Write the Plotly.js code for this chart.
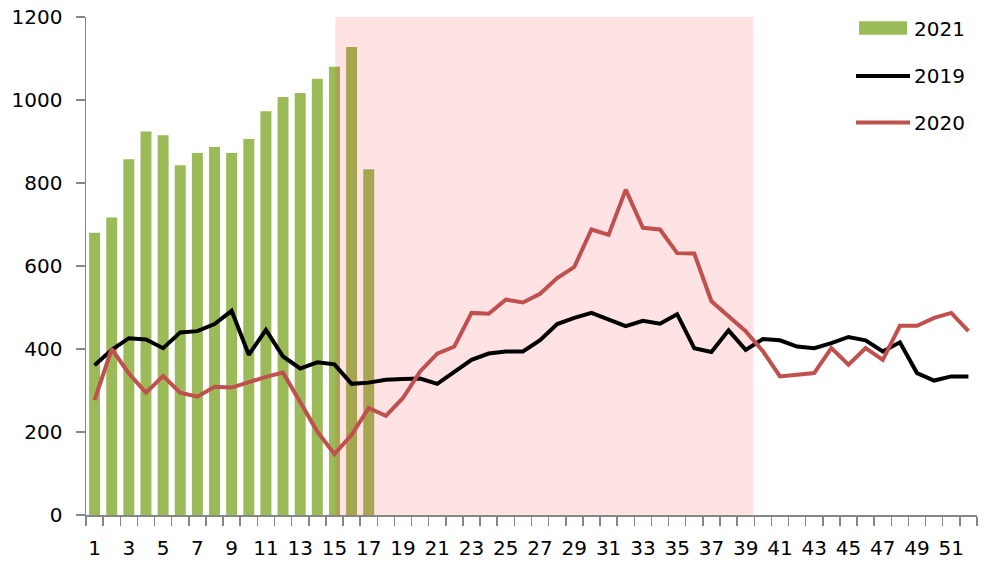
<!DOCTYPE html>
<html>
<head>
<meta charset="utf-8">
<script src="https://cdn.plot.ly/plotly-3.0.1.min.js"></script>
<style>html,body{margin:0;padding:0;background:#fff;}#chart{width:981px;height:570px;}</style>
</head>
<body>
<div id="chart"></div>
<script>
// Categories (weeks)
const weeks = [1,2,3,4,5,6,7,8,9,10,11,12,13,14,15,16,17,18,19,20,21,22,23,24,25,26,
  27,28,29,30,31,32,33,34,35,36,37,38,39,40,41,42,43,44,45,46,47,48,49,50,51,52];
const weeks2021 = [1,2,3,4,5,6,7,8,9,10,11,12,13,14,15,16,17];
// Series values
const v2021 = [680,717,857,924,915,843,872,887,872,906,973,1007,1017,1051,1080,1128,833];
const v2019 = [361,398,426,423,402,440,443,460,492,386,446,382,353,368,363,316,319,326,328,329,
  316,346,374,389,394,394,421,460,475,487,472,455,468,461,484,402,393,445,398,424,
  421,406,402,414,429,421,394,416,342,324,334,334];
const v2020 = [277,400,341,295,335,295,285,309,307,321,333,343,273,201,147,193,258,239,282,346,
  389,406,487,485,519,512,533,571,598,688,675,784,692,688,631,630,515,479,443,395,
  334,338,342,402,362,402,374,456,456,475,487,443];
// Shaded period (weeks) and its height
const shadeX = [15.05, 39.45];
const shadeTop = 1200;
// Tick labels
const tickWeeks = [1,3,5,7,9,11,13,15,17,19,21,23,25,27,29,31,33,35,37,39,41,43,45,47,49,51];
const yTicks = [0,200,400,600,800,1000,1200];
const seriesNames = ['2021','2019','2020'];

const cGreen = '#9BBB59', cBlack = '#000000', cRed = '#C0504D';
const FONT = 'DejaVu Sans, Verdana, sans-serif';
const FS = 20;

const traces = [
  {type:'bar', x:weeks2021, y:v2021, name:seriesNames[0], marker:{color:cGreen}, showlegend:false, hoverinfo:'x+y'},
  {type:'scatter', mode:'none', x:[shadeX[0],shadeX[1],shadeX[1],shadeX[0],shadeX[0]],
   y:[0,0,shadeTop,shadeTop,0], fill:'toself', fillcolor:'rgba(255,0,20,0.115)', showlegend:false, hoverinfo:'skip'},
  {type:'scatter', mode:'lines', x:weeks, y:v2019, name:seriesNames[1], line:{color:cBlack, width:4}, showlegend:false},
  {type:'scatter', mode:'lines', x:weeks, y:v2020, name:seriesNames[2], line:{color:cRed, width:4}, showlegend:false}
];

// Legend drawn in paper coordinates
const legY = [0.978, 0.8815, 0.788];
const shapes = [
  {type:'rect', xref:'paper', yref:'paper', x0:0.8676, x1:0.9214, y0:legY[0]-0.0135, y1:legY[0]+0.0135, fillcolor:cGreen, line:{width:0}},
  {type:'line', xref:'paper', yref:'paper', x0:0.8642, x1:0.9248, y0:legY[1], y1:legY[1], line:{color:cBlack, width:4}},
  {type:'line', xref:'paper', yref:'paper', x0:0.8642, x1:0.9248, y0:legY[2], y1:legY[2], line:{color:cRed, width:4}}
];
const annotations = seriesNames.map((n,i)=>({
  xref:'paper', yref:'paper', x:0.927, y:legY[i] - (i===0 ? 0.003 : 0), xanchor:'left', yanchor:'middle',
  text:n, showarrow:false, font:{family:FONT, size:FS, color:'#000'}
}));

const layout = {
  width:981, height:570,
  margin:{l:86, r:4, t:17, b:55},
  paper_bgcolor:'#fff', plot_bgcolor:'#fff',
  bargap:0.36, barmode:'overlay',
  showlegend:false,
  font:{family:FONT, size:FS, color:'#000'},
  xaxis:{
    range:[0.5,52.5], tickvals:tickWeeks, ticktext:tickWeeks.map(String),
    ticks:'', showgrid:false, zeroline:false,
    showline:true, linecolor:'#868686', linewidth:1.5,
    ticklabelstandoff:14,
    minor:{ticks:'outside', tick0:0.5, dtick:1, ticklen:9, tickcolor:'#868686', tickwidth:1.5, showgrid:false},
    tickfont:{family:FONT, size:FS, color:'#000'}
  },
  yaxis:{
    range:[0,1200], tickvals:yTicks, ticks:'outside', ticklen:9, tickcolor:'#868686', tickwidth:1.5,
    showgrid:false, zeroline:false, showline:true, linecolor:'#868686', linewidth:1.5,
    ticklabelstandoff:9,
    tickfont:{family:FONT, size:FS, color:'#000'}
  },
  shapes:shapes, annotations:annotations
};

Plotly.newPlot('chart', traces, layout, {displayModeBar:false, staticPlot:true});
</script>
</body>
</html>
